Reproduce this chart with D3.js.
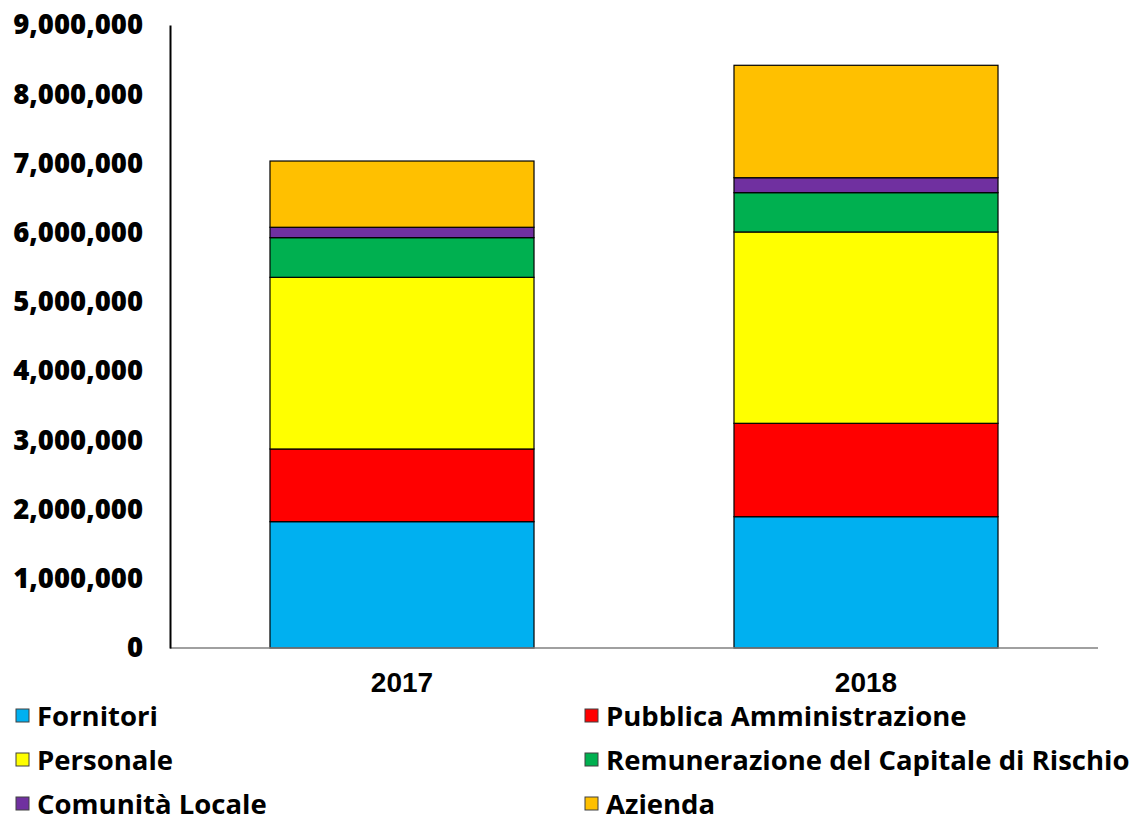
<!DOCTYPE html>
<html lang="it">
<head>
<meta charset="UTF-8">
<script src="https://d3js.org/d3.v7.min.js"></script>
<title>Valore aggiunto</title>
<style>
  body { margin: 0; background: #fff; }
</style>
</head>
<body>
<div id="chart"></div>
<script>
// data
const years = ["2017", "2018"];
const groups = ["Fornitori", "Pubblica Amministrazione", "Personale",
                "Remunerazione del Capitale di Rischio", "Comunità Locale", "Azienda"];
const fornitori = [1825000, 1897000];
const pubblica = [1050000, 1349000];
const personale = [2480000, 2764000];
const remunerazione = [573000, 568000];
const comunita = [150000, 216000];
const azienda = [957000, 1624000];
const yTicks = [0, 1000000, 2000000, 3000000, 4000000, 5000000, 6000000, 7000000, 8000000, 9000000];
const colors = ["#00B0F0", "#FF0000", "#FFFF00", "#00B050", "#7030A0", "#FFC000"];

const seriesVals = [fornitori, pubblica, personale, remunerazione, comunita, azienda];
const rows = years.map((y, i) => {
  const r = {year: y};
  groups.forEach((g, j) => r[g] = seriesVals[j][i]);
  return r;
});

const W = 1136, H = 819;
const svg = d3.select("#chart").append("svg")
  .attr("width", W).attr("height", H);

const x = d3.scaleBand().domain(years).range([170, 1098])
  .paddingInner(0.431).paddingOuter(0.2155);
const y = d3.scaleLinear().domain([0, 9000000]).range([648, 25]);
const color = d3.scaleOrdinal().domain(groups).range(colors);

const stacked = d3.stack().keys(groups)(rows);

// bars
svg.append("g").selectAll("g").data(stacked).join("g")
  .attr("fill", d => color(d.key))
  .selectAll("rect").data(d => d).join("rect")
  .attr("x", d => x(d.data.year))
  .attr("y", d => y(d[1]))
  .attr("width", x.bandwidth())
  .attr("height", d => y(d[0]) - y(d[1]))
  .attr("stroke", "#000")
  .attr("stroke-width", 1.2);

// x axis
const gx = svg.append("g").attr("transform", "translate(0,648)")
  .call(d3.axisBottom(x).tickSize(0).tickPadding(24));
gx.select(".domain").attr("stroke", "#808080").attr("stroke-width", 1.5)
  .attr("d", "M170,0H1098");
gx.selectAll("text")
  .attr("font-family", "'Liberation Sans', Arial, sans-serif")
  .attr("font-weight", "bold").attr("font-size", 28).attr("fill", "#000");

// y axis
const gy = svg.append("g").attr("transform", "translate(170,0)")
  .call(d3.axisLeft(y).tickValues(yTicks).tickSize(0).tickPadding(27)
    .tickFormat(d3.format(",")));
gy.select(".domain").attr("stroke", "#000").attr("stroke-width", 2);
gy.selectAll("text")
  .attr("font-family", "'Open Sans', sans-serif")
  .attr("font-weight", 800).attr("font-size", 27.5).attr("fill", "#000");

// legend
const legend = svg.append("g").selectAll("g").data(groups).join("g")
  .attr("transform", (d, i) => "translate(" + (i % 2 === 0 ? 16 : 585) + "," + (716 + Math.floor(i / 2) * 44) + ")");
legend.append("rect")
  .attr("x", 0).attr("y", -7).attr("width", 13).attr("height", 13)
  .attr("fill", d => color(d)).attr("stroke", "#404040").attr("stroke-width", 1);
legend.append("text")
  .attr("x", 21).attr("y", 0).attr("dy", "0.35em")
  .attr("font-family", "'Open Sans', sans-serif")
  .attr("font-weight", "bold").attr("font-size", 27.5)
  .text(d => d);
</script>
</body>
</html>
